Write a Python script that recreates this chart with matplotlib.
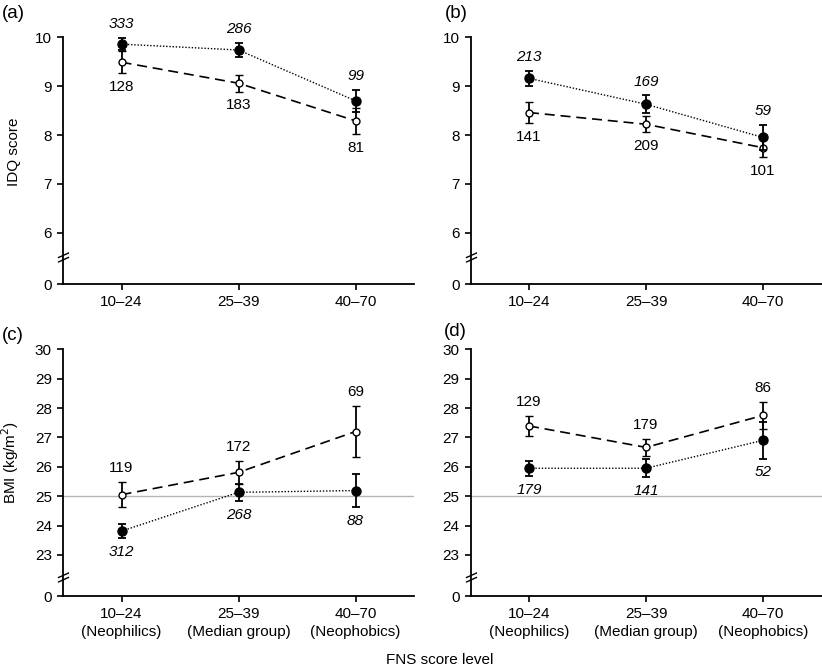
import matplotlib
matplotlib.use('Agg')
from matplotlib import pyplot as plt
from matplotlib.path import Path
from matplotlib import transforms

plt.rcParams['font.family'] = ['Liberation Sans', 'DejaVu Sans']
plt.rcParams['font.size'] = 11

groups = ['10\u201324', '25\u201339', '40\u201370']
group_names = ['(Neophilics)', '(Median group)', '(Neophobics)']

# panel (a) IDQ score
a_filled = [9.86, 9.74, 8.70]
a_filled_err = [0.13, 0.15, 0.22]
a_filled_n = [333, 286, 99]
a_open = [9.49, 9.06, 8.29]
a_open_err = [0.22, 0.17, 0.27]
a_open_n = [128, 183, 81]

# panel (b) IDQ score
b_filled = [9.16, 8.63, 7.95]
b_filled_err = [0.16, 0.18, 0.26]
b_filled_n = [213, 169, 59]
b_open = [8.46, 8.22, 7.74]
b_open_err = [0.22, 0.16, 0.20]
b_open_n = [141, 209, 101]

# panel (c) BMI
c_filled = [23.81, 25.13, 25.19]
c_filled_err = [0.24, 0.29, 0.55]
c_filled_n = [312, 268, 88]
c_open = [25.05, 25.81, 27.20]
c_open_err = [0.42, 0.39, 0.87]
c_open_n = [119, 172, 69]

# panel (d) BMI
d_filled = [25.95, 25.95, 26.90]
d_filled_err = [0.26, 0.30, 0.62]
d_filled_n = [179, 141, 52]
d_open = [27.39, 26.66, 27.75]
d_open_err = [0.35, 0.29, 0.47]
d_open_n = [129, 179, 86]

W, H = 822, 668
fig = plt.figure(figsize=(W / 100, H / 100), dpi=100)

break_marker = Path([(-1, -0.85), (1, 0.05), (-1, -0.05), (1, 0.85)],
                    [Path.MOVETO, Path.LINETO, Path.MOVETO, Path.LINETO])


def make_axes(left_px, bottom_px):
    return fig.add_axes([left_px / W, 1 - bottom_px / H, 351 / W, 246.7 / H])


def panel(ax, filled, filled_err, filled_n, opn, opn_err, opn_n,
          ylo, ybreak, yticks, filled_above, bmi):
    x = range(len(groups))
    ax.errorbar(x, opn, yerr=opn_err, color='black', ls=(0, (6, 3.5)), lw=1.2,
                marker='o', ms=5, mfc='white', mec='black', mew=1,
                elinewidth=1.3, capsize=3, capthick=1.3, zorder=3)
    ax.errorbar(x, filled, yerr=filled_err, color='black', ls=(0, (1, 1.3)), lw=1,
                marker='o', ms=6.5, mfc='black', mec='black',
                elinewidth=1.3, capsize=3, capthick=1.3, zorder=4)
    if bmi:
        ax.axhline(25, color='#b5b5b5', lw=1, zorder=0)
    off = 10
    for i in x:
        if filled_above:
            ax.annotate(str(filled_n[i]), (i, filled[i] + filled_err[i]), xytext=(0, off),
                        textcoords='offset points', ha='center', va='center', style='italic')
            ax.annotate(str(opn_n[i]), (i, opn[i] - opn_err[i]), xytext=(0, -off),
                        textcoords='offset points', ha='center', va='center')
        else:
            ax.annotate(str(opn_n[i]), (i, opn[i] + opn_err[i]), xytext=(0, off),
                        textcoords='offset points', ha='center', va='center')
            ax.annotate(str(filled_n[i]), (i, filled[i] - filled_err[i]), xytext=(0, -off),
                        textcoords='offset points', ha='center', va='center', style='italic')

    ax.set_xlim(-0.5, 2.5)
    ax.set_ylim(ylo, yticks[-1])
    ax.set_yticks([ylo] + yticks)
    ax.set_yticklabels(['0'] + [str(t) for t in yticks])
    ax.set_xticks(list(x))
    if bmi:
        ax.set_xticklabels([g + '\n' + n for g, n in zip(groups, group_names)], linespacing=1.35)
    else:
        ax.set_xticklabels(groups)
    for s in ['top', 'right']:
        ax.spines[s].set_visible(False)
    for s in ['left', 'bottom']:
        ax.spines[s].set_linewidth(1.3)
    ax.tick_params(direction='out', length=4, width=1.2, labelsize=11, pad=4)
    tr = transforms.blended_transform_factory(ax.transAxes, ax.transData)
    ax.plot([0], [ybreak], transform=tr, marker=break_marker, ms=8, mew=1,
            color='black', ls='none', clip_on=False, zorder=5)


ax_a = make_axes(63, 284)
panel(ax_a, a_filled, a_filled_err, a_filled_n, a_open, a_open_err, a_open_n,
      4.95, 5.5, [6, 7, 8, 9, 10], True, False)
ax_a.set_ylabel('IDQ score')
ax_a.yaxis.set_label_coords(-0.12, 0.535)

ax_b = make_axes(470.5, 284)
panel(ax_b, b_filled, b_filled_err, b_filled_n, b_open, b_open_err, b_open_n,
      4.95, 5.5, [6, 7, 8, 9, 10], True, False)

ax_c = make_axes(63, 596)
panel(ax_c, c_filled, c_filled_err, c_filled_n, c_open, c_open_err, c_open_n,
      21.6, 22.25, [23, 24, 25, 26, 27, 28, 29, 30], False, True)
ax_c.set_ylabel('BMI (kg/m$^2$)')
ax_c.yaxis.set_label_coords(-0.12, 0.54)

ax_d = make_axes(470.5, 596)
panel(ax_d, d_filled, d_filled_err, d_filled_n, d_open, d_open_err, d_open_n,
      21.6, 22.25, [23, 24, 25, 26, 27, 28, 29, 30], False, True)

fig.text(2 / W, 1 - 14 / H, '(a)', fontsize=13.5, va='center', ha='left')
fig.text(445 / W, 1 - 13 / H, '(b)', fontsize=13.5, va='center', ha='left')
fig.text(2 / W, 1 - 335 / H, '(c)', fontsize=13.5, va='center', ha='left')
fig.text(444 / W, 1 - 332 / H, '(d)', fontsize=13.5, va='center', ha='left')
fig.text(440 / W, 1 - 660 / H, 'FNS score level', fontsize=11, va='center', ha='center')

fig.savefig('out.png', dpi=100)
